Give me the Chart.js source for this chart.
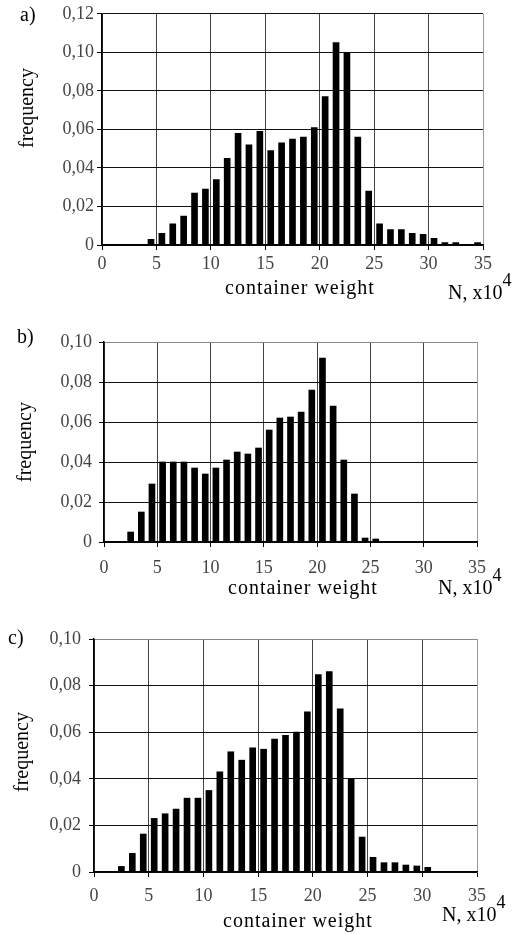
<!DOCTYPE html>
<html>
<head>
<meta charset="utf-8">
<script src="https://cdn.jsdelivr.net/npm/chart.js@4/dist/chart.umd.min.js"></script>
<style>
  body { margin: 0; background: #fff; }
  #page { position: relative; width: 515px; height: 934px; overflow: hidden; font-family: 'Liberation Serif', serif; color: #000; }
  canvas { position: absolute; left: 0; }
  .txt { position: absolute; font-size: 20px; line-height: 20px; white-space: nowrap; }
  .rot { transform: translate(-50%, -50%) rotate(-90deg); }
  .wt { letter-spacing: 1px; }
  .sup { position: relative; top: -13px; font-size: 18px; }
</style>
</head>
<body>
<div id="page">
  <canvas id="chartA" width="515" height="300" style="top:0px"></canvas>
  <canvas id="chartB" width="515" height="310" style="top:300px"></canvas>
  <canvas id="chartC" width="515" height="324" style="top:610px"></canvas>

  <div class="txt" style="left:20px;top:4px">a)</div>
  <div class="txt rot" style="left:26px;top:108px">frequency</div>
  <div class="txt wt" style="left:225px;top:277px">container weight</div>
  <div class="txt" style="left:448px;top:282px">N, x10<span class="sup">4</span></div>

  <div class="txt" style="left:17px;top:326px">b)</div>
  <div class="txt rot" style="left:24px;top:442px">frequency</div>
  <div class="txt wt" style="left:228px;top:577px">container weight</div>
  <div class="txt" style="left:438px;top:577px">N, x10<span class="sup">4</span></div>

  <div class="txt" style="left:8px;top:627px">c)</div>
  <div class="txt rot" style="left:21px;top:752px">frequency</div>
  <div class="txt wt" style="left:223px;top:910px">container weight</div>
  <div class="txt" style="left:442px;top:904px">N, x10<span class="sup">4</span></div>
</div>

<script>
'use strict';

let xTicks = ['0', '5', '10', '15', '20', '25', '30', '35'];
let yTicksA = ['0', '0,02', '0,04', '0,06', '0,08', '0,10', '0,12'];
let yTicksBC = ['0', '0,02', '0,04', '0,06', '0,08', '0,10'];

// bin centres (x 10^4 N) and frequencies
let binsA = [4.5, 5.5, 6.5, 7.5, 8.5, 9.5, 10.5, 11.5, 12.5, 13.5, 14.5, 15.5, 16.5, 17.5, 18.5, 19.5,
  20.5, 21.5, 22.5, 23.5, 24.5, 25.5, 26.5, 27.5, 28.5, 29.5, 30.5, 31.5, 32.5, 33.5, 34.5];
let freqA = [0.003, 0.006, 0.011, 0.015, 0.027, 0.029, 0.034, 0.045, 0.058, 0.052, 0.059, 0.049, 0.053, 0.055, 0.056, 0.061,
  0.077, 0.105, 0.100, 0.056, 0.028, 0.011, 0.008, 0.008, 0.006, 0.0055, 0.0035, 0.0012, 0.0012, 0, 0.0012];

let binsB = [2.5, 3.5, 4.5, 5.5, 6.5, 7.5, 8.5, 9.5, 10.5, 11.5, 12.5, 13.5, 14.5, 15.5, 16.5, 17.5,
  18.5, 19.5, 20.5, 21.5, 22.5, 23.5, 24.5, 25.5];
let freqB = [0.005, 0.015, 0.029, 0.040, 0.040, 0.040, 0.037, 0.034, 0.037, 0.041, 0.045, 0.044, 0.047, 0.056, 0.062, 0.0625,
  0.065, 0.076, 0.092, 0.068, 0.041, 0.024, 0.002, 0.0015];

let binsC = [2.5, 3.5, 4.5, 5.5, 6.5, 7.5, 8.5, 9.5, 10.5, 11.5, 12.5, 13.5, 14.5, 15.5, 16.5, 17.5,
  18.5, 19.5, 20.5, 21.5, 22.5, 23.5, 24.5, 25.5, 26.5, 27.5, 28.5, 29.5, 30.5];
let freqC = [0.0024, 0.008, 0.0163, 0.023, 0.025, 0.027, 0.0317, 0.0317, 0.035, 0.043, 0.0516, 0.048, 0.0533, 0.0527, 0.057, 0.0587,
  0.060, 0.0687, 0.0847, 0.086, 0.070, 0.040, 0.015, 0.0063, 0.004, 0.004, 0.003, 0.0026, 0.002];

Chart.defaults.font.family = "'Liberation Serif', serif";
Chart.defaults.font.size = 18;
Chart.defaults.color = '#444';

function makeChart(id, bins, freq, yTicks, yMax, box) {
  let points = [];
  for (let i = 0; i < bins.length; i++) {
    points.push({ x: bins[i], y: freq[i] });
  }

  return new Chart(document.getElementById(id), {
    type: 'bar',
    data: {
      datasets: [{
        data: points,
        backgroundColor: '#000',
        borderWidth: 0,
        barThickness: 6
      }]
    },
    options: {
      responsive: false,
      animation: false,
      layout: { padding: { left: 0, top: box.top, right: box.right, bottom: box.bottom } },
      plugins: { legend: { display: false }, tooltip: { enabled: false } },
      scales: {
        x: {
          type: 'linear',
          min: 0,
          max: 35,
          offset: false,
          afterFit: function (scale) { scale.height = 40; },
          ticks: {
            stepSize: 5,
            padding: box.xPad,
            maxRotation: 0,
            callback: function (v, i) { return xTicks[i]; }
          },
          grid: {
            offset: false,
            color: function (ctx) { return ctx.tick && ctx.tick.value === 35 ? '#999' : '#444'; },
            lineWidth: 1,
            tickLength: 5,
            tickColor: '#000'
          },
          border: { color: '#000', width: 1.5 }
        },
        y: {
          min: 0,
          max: yMax,
          afterFit: function (scale) { scale.width = box.left; },
          ticks: {
            stepSize: 0.02,
            padding: box.yPad,
            callback: function (v, i) { return yTicks[i]; }
          },
          grid: {
            color: function (ctx) { return ctx.tick && ctx.tick.value >= yMax - 0.0001 && id !== 'chartA' ? '#888' : '#111'; },
            lineWidth: 1,
            tickLength: 5,
            tickColor: '#000'
          },
          border: { color: '#000', width: 1.5 }
        }
      }
    }
  });
}

makeChart('chartA', binsA, freqA, yTicksA, 0.12, { left: 102, top: 11, right: 32, bottom: 15, xPad: 3, yPad: 3 });
makeChart('chartB', binsB, freqB, yTicksBC, 0.10, { left: 104, top: 42, right: 38, bottom: 28, xPad: 10, yPad: 7 });
makeChart('chartC', binsC, freqC, yTicksBC, 0.10, { left: 94, top: 29, right: 38, bottom: 22, xPad: 8, yPad: 8 });
</script>
</body>
</html>
